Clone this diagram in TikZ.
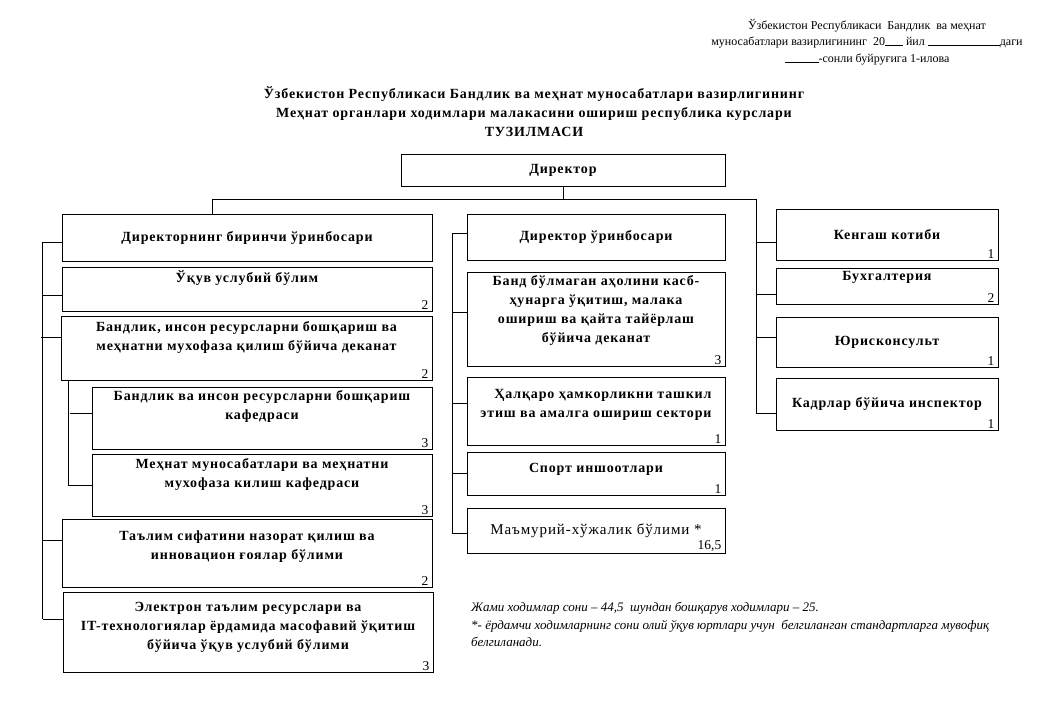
\documentclass[tikz,border=0pt]{standalone}
\usepackage{fontspec}
\setmainfont{Liberation Serif}
\newfontfamily\boxfont[LetterSpace=6]{Liberation Serif}

\begin{document}
\begin{tikzpicture}[x=1pt, y=-1pt,
  unit/.style={draw, line width=1pt, inner sep=0pt},
  caption/.style={font=\boxfont\bfseries\fontsize{14}{19}\selectfont, align=center, inner sep=0pt},
  count/.style={font=\fontsize{13.5}{13.5}\selectfont, anchor=south east, inner sep=0pt, xshift=-4pt, yshift=2pt},
  link/.style={line width=0.9pt}]
  \useasboundingbox (0,0) rectangle (1040,720);

  % Header texts
  \node[font=\fontsize{12}{16.5}\selectfont, align=center] (order) at (867,42)
    {Ўзбекистон Республикаси \ Бандлик \ ва меҳнат\\
     муносабатлари вазирлигининг \ 20\rule{18pt}{0.5pt} йил \rule{72pt}{0.5pt}даги\\
     \rule{34pt}{0.5pt}-сонли буйруғига 1-илова};
  \node[font=\boxfont\bfseries\fontsize{14}{19}\selectfont, align=center] (title) at (534,112)
    {Ўзбекистон Республикаси Бандлик ва меҳнат муносабатлари вазирлигининг\\
     Меҳнат органлари ходимлари малакасини ошириш республика курслари\\
     ТУЗИЛМАСИ};

  % Top box
  \node[unit, minimum width=324, minimum height=32] (director) at (563,170) {};
  \node[caption] (directorT) at (director.center) {Директор};

  % Left column
  \node[unit, minimum width=370, minimum height=47] (first) at (247,237.5) {};
  \node[unit, minimum width=370, minimum height=44] (ukuv) at (247,289) {};
  \node[unit, minimum width=371, minimum height=64] (dekanat) at (246.5,348) {};
  \node[unit, minimum width=340, minimum height=62] (kafedraA) at (262,418) {};
  \node[unit, minimum width=340, minimum height=62] (kafedraB) at (262,485) {};
  \node[unit, minimum width=370, minimum height=68] (talim) at (247,553) {};
  \node[unit, minimum width=370, minimum height=80] (elektron) at (248,632) {};

  \node[caption] (firstT) at (first.center) {Директорнинг биринчи ўринбосари};
  \node[caption] (ukuvT) at ([yshift=11pt]ukuv.center) {Ўқув услубий бўлим};
  \node[caption] (dekanatT) at ([yshift=10.5pt]dekanat.center)
    {Бандлик, инсон ресурсларни бошқариш ва\\ меҳнатни мухофаза қилиш бўйича деканат};
  \node[caption] (kafedraAT) at ([yshift=11.5pt]kafedraA.center)
    {Бандлик ва инсон ресурсларни бошқариш\\ кафедраси};
  \node[caption] (kafedraBT) at ([yshift=10.5pt]kafedraB.center)
    {Меҳнат муносабатлари ва меҳнатни\\ мухофаза килиш кафедраси};
  \node[caption] (talimT) at ([yshift=6.5pt]talim.center)
    {Таълим сифатини назорат қилиш ва\\ инновацион ғоялар бўлими};
  \node[caption] (elektronT) at ([yshift=5pt]elektron.center)
    {Электрон таълим ресурслари ва\\ IT-технологиялар ёрдамида масофавий ўқитиш\\ бўйича ўқув услубий бўлими};

  \node[count] (ukuvN) at (ukuv.south east) {2};
  \node[count] (dekanatN) at (dekanat.south east) {2};
  \node[count] (kafedraAN) at (kafedraA.south east) {3};
  \node[count] (kafedraBN) at (kafedraB.south east) {3};
  \node[count] (talimN) at (talim.south east) {2};
  \node[count] (elektronN) at (elektron.south east) {3};

  % Middle column
  \node[unit, minimum width=258, minimum height=46] (deputy) at (596,237) {};
  \node[unit, minimum width=258, minimum height=94] (band) at (596,319) {};
  \node[unit, minimum width=258, minimum height=68] (halqaro) at (596,411) {};
  \node[unit, minimum width=258, minimum height=43] (sport) at (596,473.5) {};
  \node[unit, minimum width=258, minimum height=45] (mamuriy) at (596,530.5) {};

  \node[caption] (deputyT) at (deputy.center) {Директор ўринбосари};
  \node[caption] (bandT) at ([yshift=8.5pt]band.center)
    {Банд бўлмаган аҳолини касб-\\ ҳунарга ўқитиш, малака\\ ошириш ва қайта тайёрлаш\\ бўйича деканат};
  \node[caption, align=right] (halqaroT) at ([yshift=6.5pt]halqaro.center)
    {Ҳалқаро ҳамкорликни ташкил\\ этиш ва амалга ошириш сектори};
  \node[caption] (sportT) at ([yshift=4.5pt]sport.center) {Спорт иншоотлари};
  \node[caption, font=\boxfont\fontsize{15}{19}\selectfont] (mamuriyT) at (mamuriy.center) {Маъмурий-хўжалик бўлими *};

  \node[count] (bandN) at (band.south east) {3};
  \node[count] (halqaroN) at (halqaro.south east) {1};
  \node[count] (sportN) at (sport.south east) {1};
  \node[count] (mamuriyN) at (mamuriy.south east) {16,5};

  % Right column
  \node[unit, minimum width=222, minimum height=51] (kengash) at (887,234.5) {};
  \node[unit, minimum width=222, minimum height=36] (buxg) at (887,286) {};
  \node[unit, minimum width=222, minimum height=50] (yurist) at (887,342) {};
  \node[unit, minimum width=222, minimum height=52] (kadrlar) at (887,404) {};

  \node[caption] (kengashT) at (kengash.center) {Кенгаш котиби};
  \node[caption] (buxgT) at ([yshift=9pt]buxg.center) {Бухгалтерия};
  \node[caption] (yuristT) at (yurist.center) {Юрисконсульт};
  \node[caption] (kadrlarT) at (kadrlar.center) {Кадрлар бўйича инспектор};

  \node[count] (kengashN) at (kengash.south east) {1};
  \node[count] (buxgN) at (buxg.south east) {2};
  \node[count] (yuristN) at (yurist.south east) {1};
  \node[count] (kadrlarN) at (kadrlar.south east) {1};

  % Footnote
  \node[font=\itshape\fontsize{13}{17.5}\selectfont, align=left, anchor=north west, inner sep=0pt] (note) at (471,602)
    {Жами ходимлар сони -- 44,5 \ шундан бошқарув ходимлари -- 25.\\
     *- ёрдамчи ходимларнинг сони олий ўқув юртлари учун \ белгиланган стандартларга мувофиқ\\
     белгиланади.};

  % Bus under the director
  \coordinate (busL) at (212,199);
  \coordinate (busR) at (756,199);
  \draw[link] (director.south) -- (director.south |- busL);
  \draw[link] (first.north -| busL) -- (busL) -- (busR);

  % Left spine
  \coordinate (spineL) at (42,0);
  \foreach \n/\s in {first/-4.5, ukuv/-6.5, dekanat/11, talim/13, elektron/13}
    \draw[link] ([yshift=\s pt]\n.west) -- ++(-20,0);
  \draw[link] ([yshift=-4.5pt]first.west -| spineL) -- ([yshift=13pt]elektron.west -| spineL);

  % Sub spine under the deanery
  \coordinate (spineS) at ([xshift=8pt]dekanat.south west);
  \draw[link] (spineS) |- (kafedraB.west);
  \draw[link] ([yshift=5pt]kafedraA.west) -- ++(-22,0);

  % Middle spine
  \coordinate (spineM) at (452,0);
  \foreach \n/\s in {deputy/4, band/7, halqaro/8, sport/0, mamuriy/-2.5}
    \draw[link] ([yshift=\s pt]\n.west) -- ++(-15,0);
  \draw[link] ([yshift=4pt]deputy.west -| spineM) -- ([yshift=-2.5pt]mamuriy.west -| spineM);

  % Right spine
  \foreach \n/\s in {kengash/-7.5, buxg/-8, yurist/5, kadrlar/-9}
    \draw[link] ([yshift=\s pt]\n.west) -- ++(-20,0);
  \draw[link] (busR) -- ([yshift=-9pt]kadrlar.west -| busR);
\end{tikzpicture}
\end{document}
